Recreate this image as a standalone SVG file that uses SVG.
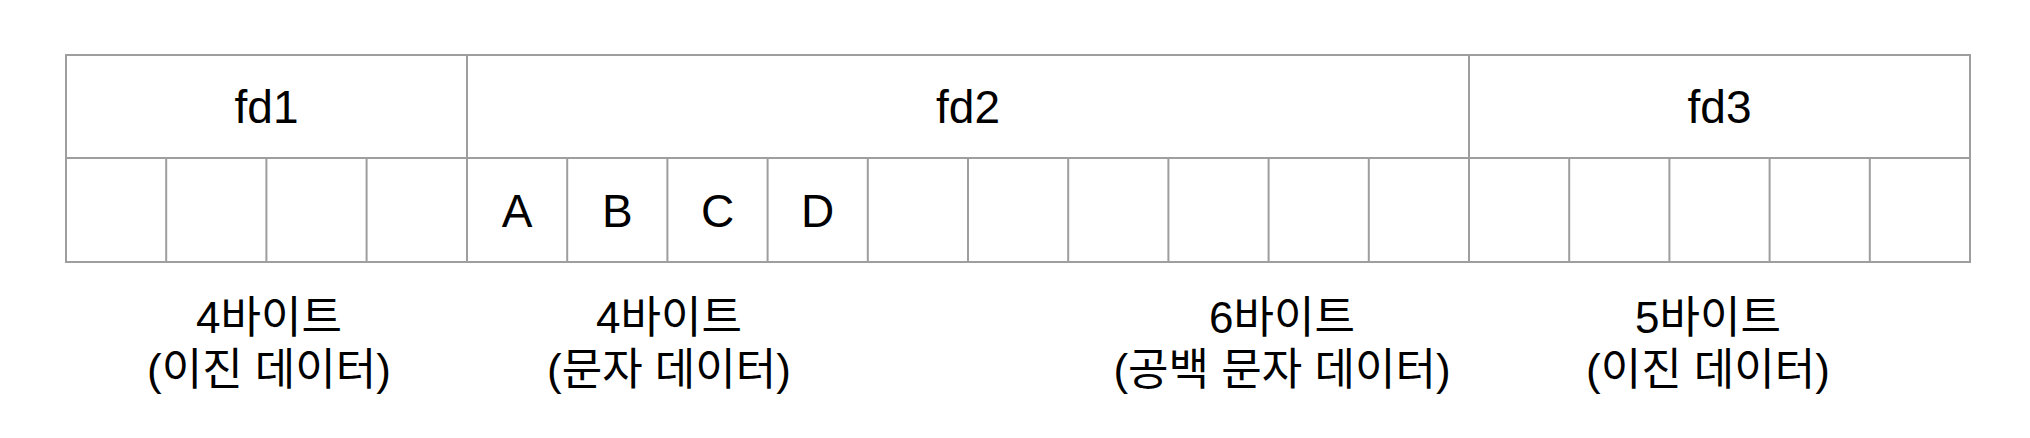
<svg xmlns="http://www.w3.org/2000/svg" width="2030" height="438" viewBox="0 0 2030 438">
<style>
.grid{stroke:#9e9e9e;stroke-width:2;fill:none}
.t{font-family:"Liberation Sans","Noto Sans CJK KR",sans-serif;fill:#000;text-anchor:middle}
.big{font-size:46px}
.lab{font-size:44px}
</style>
<rect width="2030" height="438" fill="#fff"/>
<g id="table">
<rect class="grid" x="66" y="55" width="1904" height="207"/>
<line class="grid" x1="66" y1="158" x2="1970" y2="158"/>
<line class="grid" x1="467" y1="55" x2="467" y2="262"/>
<line class="grid" x1="1469" y1="55" x2="1469" y2="262"/>
<path class="grid" d="M166.2 158V262M266.4 158V262M366.6 158V262M567.2 158V262M667.4 158V262M767.6 158V262M867.8 158V262M968 158V262M1068.2 158V262M1168.4 158V262M1268.6 158V262M1368.8 158V262M1569.2 158V262M1669.4 158V262M1769.6 158V262M1869.8 158V262"/>
</g>
<g id="fd1"><text class="t big" x="266.5" y="123">fd1</text></g>
<g id="fd2"><text class="t big" x="968" y="123">fd2</text></g>
<g id="fd3"><text class="t big" x="1719.5" y="123">fd3</text></g>
<g id="cells">
<text class="t big" x="517" y="227">A</text>
<text class="t big" x="617.3" y="227">B</text>
<text class="t big" x="717.5" y="227">C</text>
<text class="t big" x="817.7" y="227">D</text>
</g>
<g id="label1"><text class="t lab" x="269" y="333">4바이트</text><text class="t lab" x="269" y="385">(이진 데이터)</text></g>
<g id="label2"><text class="t lab" x="669" y="333">4바이트</text><text class="t lab" x="669" y="385">(문자 데이터)</text></g>
<g id="label3"><text class="t lab" x="1282" y="333">6바이트</text><text class="t lab" x="1282" y="385">(공백 문자 데이터)</text></g>
<g id="label4"><text class="t lab" x="1708" y="333">5바이트</text><text class="t lab" x="1708" y="385">(이진 데이터)</text></g>
</svg>
